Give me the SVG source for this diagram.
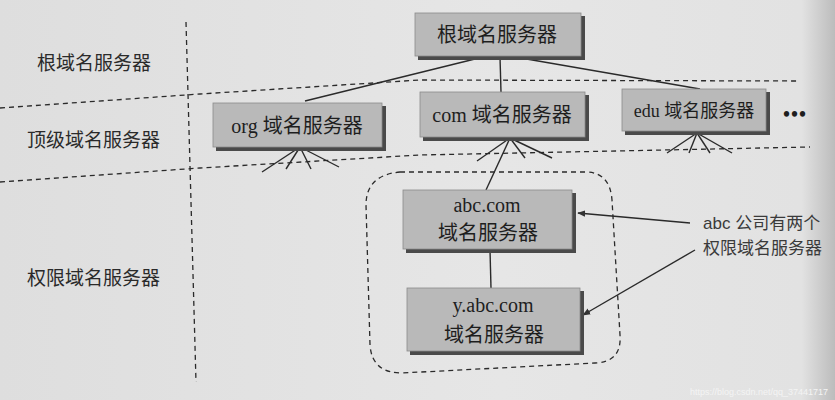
<svg xmlns="http://www.w3.org/2000/svg" width="835" height="400" viewBox="0 0 835 400">
<defs>
<linearGradient id="bg" x1="0" y1="0" x2="1" y2="0">
<stop offset="0" stop-color="#dedede"/>
<stop offset="0.6" stop-color="#e6e6e6"/>
<stop offset="0.96" stop-color="#e2e2e2"/>
<stop offset="1" stop-color="#bcbcbc"/>
</linearGradient>
<marker id="arr" viewBox="0 0 10 10" refX="9" refY="5" markerWidth="8" markerHeight="8" orient="auto" markerUnits="userSpaceOnUse">
<path d="M0,1 L10,5 L0,9 Z" fill="#333"/>
</marker>
</defs>
<style>
.box{fill:#b9b9b9;stroke:#8a8a8a;stroke-width:0.8}
.shadow{fill:#4a4a4a}
.t{font-family:"Liberation Serif","Noto Sans CJK SC",serif;fill:#1e1e1e;text-anchor:middle}
.lab{font-family:"Noto Sans CJK SC",sans-serif;fill:#2a2a2a;font-size:19px}
.ann{font-family:"Liberation Sans","Noto Sans CJK SC",sans-serif;fill:#3a3a3a;font-size:17px}
.dash{fill:none;stroke:#2a2a2a;stroke-width:1.3;stroke-dasharray:5 4}
.ln{stroke:#2a2a2a;stroke-width:1.4;fill:none}
</style>
<rect width="835" height="400" fill="url(#bg)"/>

<g id="grid">
<path class="dash" d="M186,22 L196,382"/>
<path class="dash" d="M0,108 L200,94 L420,80 L800,81"/>
<path class="dash" d="M0,182 L200,168 L420,155 L810,147"/>
</g>

<g id="labels">
<text class="lab" x="37" y="70">根域名服务器</text>
<text class="lab" x="27" y="147">顶级域名服务器</text>
<text class="lab" x="27" y="285">权限域名服务器</text>
</g>

<g id="connectors">
<line class="ln" x1="483" y1="57" x2="305" y2="101"/>
<line class="ln" x1="500" y1="57" x2="501" y2="92"/>
<line class="ln" x1="515" y1="57" x2="700" y2="89"/>
<g id="fan-org">
<line class="ln" x1="300" y1="147" x2="262" y2="172"/>
<line class="ln" x1="300" y1="147" x2="286" y2="169"/>
<line class="ln" x1="300" y1="147" x2="311" y2="169"/>
<line class="ln" x1="300" y1="147" x2="339" y2="167"/>
</g>
<g id="fan-com">
<line class="ln" x1="510" y1="138" x2="477" y2="161"/>
<line class="ln" x1="510" y1="138" x2="486" y2="190"/>
<line class="ln" x1="510" y1="138" x2="525" y2="158"/>
<line class="ln" x1="510" y1="138" x2="552" y2="158"/>
</g>
<g id="fan-edu">
<line class="ln" x1="697" y1="133" x2="667" y2="153"/>
<line class="ln" x1="697" y1="133" x2="689" y2="153"/>
<line class="ln" x1="697" y1="133" x2="710" y2="153"/>
<line class="ln" x1="697" y1="133" x2="732" y2="153"/>
</g>
<line class="ln" x1="490" y1="250" x2="491" y2="288"/>
<line class="ln" x1="690" y1="223" x2="578" y2="213" marker-end="url(#arr)"/>
<line class="ln" x1="695" y1="250" x2="583" y2="315" marker-end="url(#arr)"/>
</g>

<g id="zone">
<path class="dash" d="M400,172 L585,172 Q610,172 612,200 L620,335 Q622,362 595,363 L402,373 Q372,373 370,345 L366,205 Q366,175 400,172 Z"/>
</g>

<g id="root">
<rect class="shadow" x="418" y="16" width="167" height="44"/>
<rect class="box" x="415" y="13" width="166" height="43"/>
<text class="t" x="497" y="42" font-size="20">根域名服务器</text>
</g>

<g id="org">
<rect class="shadow" x="216" y="106" width="170" height="45"/>
<rect class="box" x="213" y="103" width="169" height="44"/>
<text class="t" x="297" y="133" font-size="20">org 域名服务器</text>
</g>

<g id="com">
<rect class="shadow" x="423" y="95" width="166" height="46"/>
<rect class="box" x="420" y="92" width="165" height="45"/>
<text class="t" x="502" y="122" font-size="20">com 域名服务器</text>
</g>

<g id="edu">
<rect class="shadow" x="625" y="92" width="145" height="43"/>
<rect class="box" x="622" y="89" width="144" height="42"/>
<text class="t" x="694" y="117" font-size="18">edu 域名服务器</text>
</g>

<g id="more">
<text class="t" x="795" y="121" font-size="20" font-weight="bold" letter-spacing="1">•••</text>
</g>

<g id="abc">
<rect class="shadow" x="406" y="193" width="170" height="60"/>
<rect class="box" x="403" y="190" width="169" height="59"/>
<text class="t" x="487" y="212" font-size="20">abc.com</text>
<text class="t" x="488" y="240" font-size="20">域名服务器</text>
</g>

<g id="yabc">
<rect class="shadow" x="410" y="291" width="174" height="64"/>
<rect class="box" x="407" y="288" width="173" height="63"/>
<text class="t" x="493" y="312" font-size="20">y.abc.com</text>
<text class="t" x="494" y="342" font-size="20">域名服务器</text>
</g>

<g id="note">
<text class="ann" x="703" y="229">abc 公司有两个</text>
<text class="ann" x="703" y="254">权限域名服务器</text>
</g>

<text x="828" y="395" text-anchor="end" font-family="Liberation Sans, sans-serif" font-size="9" fill="#f4f4f4">https://blog.csdn.net/qq_37441717</text>
</svg>
